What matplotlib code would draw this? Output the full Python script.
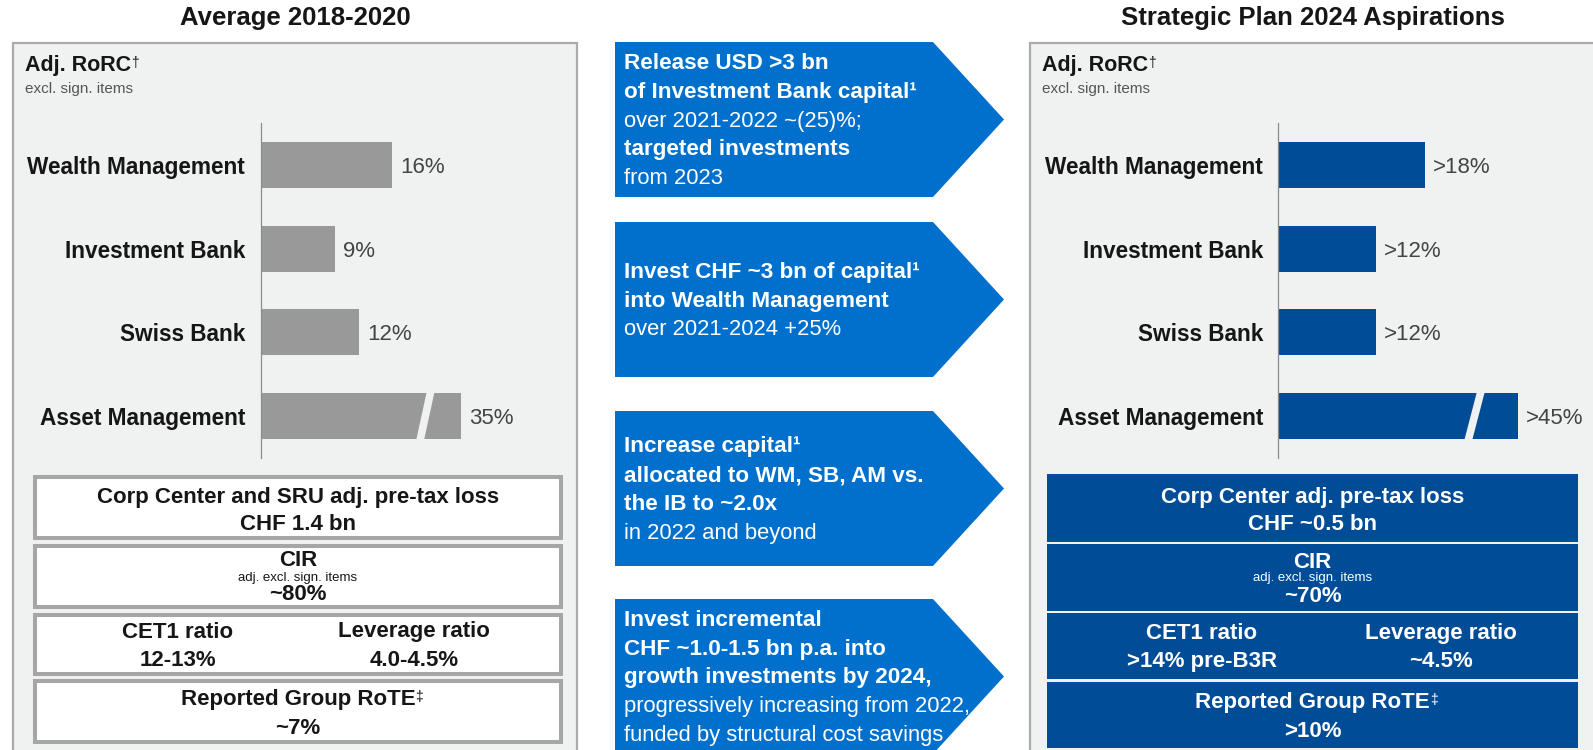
import matplotlib
matplotlib.use("Agg")
import matplotlib.pyplot as plt
from matplotlib.patches import Rectangle, Polygon

plt.rcParams['font.family'] = ['Liberation Sans', 'DejaVu Sans']

# --- data ---
segments = ['Wealth Management', 'Investment Bank', 'Swiss Bank', 'Asset Management']
avg_rorc = [16, 9, 12, 35]
avg_rorc_text = ['16%', '9%', '12%', '35%']
plan_rorc = [18, 12, 12, 45]
plan_rorc_text = ['>18%', '>12%', '>12%', '>45%']

avg_cc_title = 'Corp Center and SRU adj. pre-tax loss'
plan_cc_title = 'Corp Center adj. pre-tax loss'
avg_cc = 'CHF 1.4 bn'
plan_cc = 'CHF ~0.5 bn'
avg_cir = '~80%'
plan_cir = '~70%'
avg_cet1 = '12-13%'
plan_cet1 = '>14% pre-B3R'
avg_leverage = '4.0-4.5%'
plan_leverage = '~4.5%'
avg_rote = '~7%'
plan_rote = '>10%'

lever_1 = [('Release USD >3 bn', 'bold'), ('of Investment Bank capital\u00b9', 'bold'),
           ('over 2021-2022 ~(25)%;', 'normal'), ('targeted investments', 'bold'),
           ('from 2023', 'normal')]
lever_2 = [('Invest CHF ~3 bn of capital\u00b9', 'bold'), ('into Wealth Management', 'bold'),
           ('over 2021-2024 +25%', 'normal')]
lever_3 = [('Increase capital\u00b9', 'bold'), ('allocated to WM, SB, AM vs.', 'bold'),
           ('the IB to ~2.0x', 'bold'), ('in 2022 and beyond', 'normal')]
lever_4 = [('Invest incremental', 'bold'), ('CHF ~1.0-1.5 bn p.a. into', 'bold'),
           ('growth investments by 2024,', 'bold'),
           ('progressively increasing from 2022,', 'normal'),
           ('funded by structural cost savings', 'normal')]
levers = [lever_1, lever_2, lever_3, lever_4]

# --- colours ---
PANEL_BG = '#f0f1f1'
PANEL_EDGE = '#ababab'
GREY_BAR = '#999999'
DARK_BLUE = '#004c97'
ARROW_BLUE = '#0070cc'
INK = '#161616'

W, H = 1593, 750
fig = plt.figure(figsize=(W / 100, H / 100), dpi=100)
bg = fig.add_axes([0, 0, 1, 1])
bg.set_xlim(0, W)
bg.set_ylim(H, 0)
bg.axis('off')


def px_axes(x0, y0, w, h):
    return fig.add_axes([x0 / W, 1 - (y0 + h) / H, w / W, h / H])


def superscript(artist, mark, color):
    bg.annotate(mark, xy=(1, 1), xycoords=artist, xytext=(0, -1),
                textcoords='offset pixels', ha='left', va='top',
                fontsize=10, color=color)


def rorc_panel(px, pw, title, title_x, values, texts, color, cap, name_x):
    bg.add_patch(Rectangle((px, 43), pw, 720, fc=PANEL_BG, ec=PANEL_EDGE, lw=1.6))
    bg.text(title_x, 18, title, ha='center', va='center', fontsize=18.5,
            fontweight='bold', color=INK)
    t = bg.text(px + 12, 71, 'Adj. RoRC', fontsize=15.5, fontweight='bold',
                color=INK, va='baseline')
    superscript(t, '\u2020', INK)
    bg.text(px + 12, 93, 'excl. sign. items', fontsize=11, color='#555555',
            va='baseline')

    x0 = px + 248
    ax = px_axes(x0, 123, 300, 335)
    ax.patch.set_alpha(0)
    ax.set_xlim(0, 300 / 8.18)
    ax.set_ylim(3.5, -0.5)
    drawn = [min(v, cap) for v in values]
    ax.barh(range(len(values)), drawn, height=0.55, color=color)
    for side in ['top', 'right', 'bottom']:
        ax.spines[side].set_visible(False)
    ax.spines['left'].set_color('#8c8c8c')
    ax.spines['left'].set_linewidth(0.9)
    ax.set_xticks([])
    ax.set_yticks(range(len(segments)))
    ax.set_yticklabels(segments, fontsize=16.3, fontweight='bold', color=INK)
    ax.tick_params(axis='y', length=0, pad=(x0 - name_x) * 0.72)
    for i, (v, d, s) in enumerate(zip(values, drawn, texts)):
        ax.annotate(s, xy=(d, i), xytext=(8, 0), textcoords='offset pixels',
                    ha='left', va='center_baseline', fontsize=16, color='#444444')
        if v > cap:
            ax.plot([d * 0.79, d * 0.85], [i + 0.33, i - 0.33], color=PANEL_BG,
                    lw=5.5, solid_capstyle='butt', clip_on=False)


rorc_panel(13, 564, 'Average 2018-2020', 295, avg_rorc, avg_rorc_text, GREY_BAR,
           24.5, 245)
rorc_panel(1030, 700, 'Strategic Plan 2024 Aspirations', 1313, plan_rorc,
           plan_rorc_text, DARK_BLUE, 29.3, 1263)

# --- arrows in the middle ---
arrow_tops = [42, 222, 411, 599]
for top, lines in zip(arrow_tops, levers):
    bot = top + 155
    mid = (top + bot) / 2
    bg.add_patch(Polygon([(615, top), (933, top), (1004, mid), (933, bot), (615, bot)],
                         closed=True, fc=ARROW_BLUE, ec='none'))
    n = len(lines)
    for i, (txt, weight) in enumerate(lines):
        y = mid + (i - (n - 1) / 2) * 28.8 + 7
        bg.text(624, y, txt, color='white', fontsize=16.2 if weight == 'bold' else 15.8,
                fontweight=weight, va='baseline', ha='left')


# --- KPI boxes ---
def kpi_stack(x0, x1, tops, bots, face, edge, lw, color, cc_title, cc, cir, cet1,
              lev, rote, col_l, col_r, inset):
    for t, b in zip(tops, bots):
        bg.add_patch(Rectangle((x0 + inset, t + inset), x1 - x0 - 2 * inset,
                               b - t - 2 * inset, fc=face, ec=edge, lw=lw))
    xc = (x0 + x1) / 2
    c = [(t + b) / 2 for t, b in zip(tops, bots)]
    kw = dict(ha='center', va='baseline', fontsize=16, fontweight='bold', color=color)
    bg.text(xc, c[0] - 12 + 7, cc_title, **kw)
    bg.text(xc, c[0] + 15 + 7, cc, **kw)
    bg.text(xc, c[1] - 17 + 7, 'CIR', **kw)
    bg.text(xc, c[1] + 4, 'adj. excl. sign. items', ha='center', va='baseline',
            fontsize=9.5, color=color)
    bg.text(xc, c[1] + 17 + 7, cir, **kw)
    bg.text(col_l, c[2] - 14 + 7, 'CET1 ratio', **kw)
    bg.text(col_l, c[2] + 14 + 7, cet1, **kw)
    bg.text(col_r, c[2] - 14 + 7, 'Leverage ratio', **kw)
    bg.text(col_r, c[2] + 14 + 7, lev, **kw)
    r = bg.text(xc, c[3] - 14 + 7, 'Reported Group RoTE', **kw)
    superscript(r, '\u2021', color)
    bg.text(xc, c[3] + 15 + 7, rote, **kw)


kpi_stack(33, 563, [475, 544, 613, 679], [540, 609, 676, 744], 'white', '#a6a6a6',
          2.9, INK, avg_cc_title, avg_cc, avg_cir, avg_cet1, avg_leverage, avg_rote,
          178, 414, 2)
kpi_stack(1047, 1578, [474, 544, 613, 682], [542, 611, 679, 748], DARK_BLUE, 'none',
          0, 'white', plan_cc_title, plan_cc, plan_cir, plan_cet1, plan_leverage,
          plan_rote, 1202, 1441, 0)

fig.savefig('out.png', dpi=100, facecolor='white')
